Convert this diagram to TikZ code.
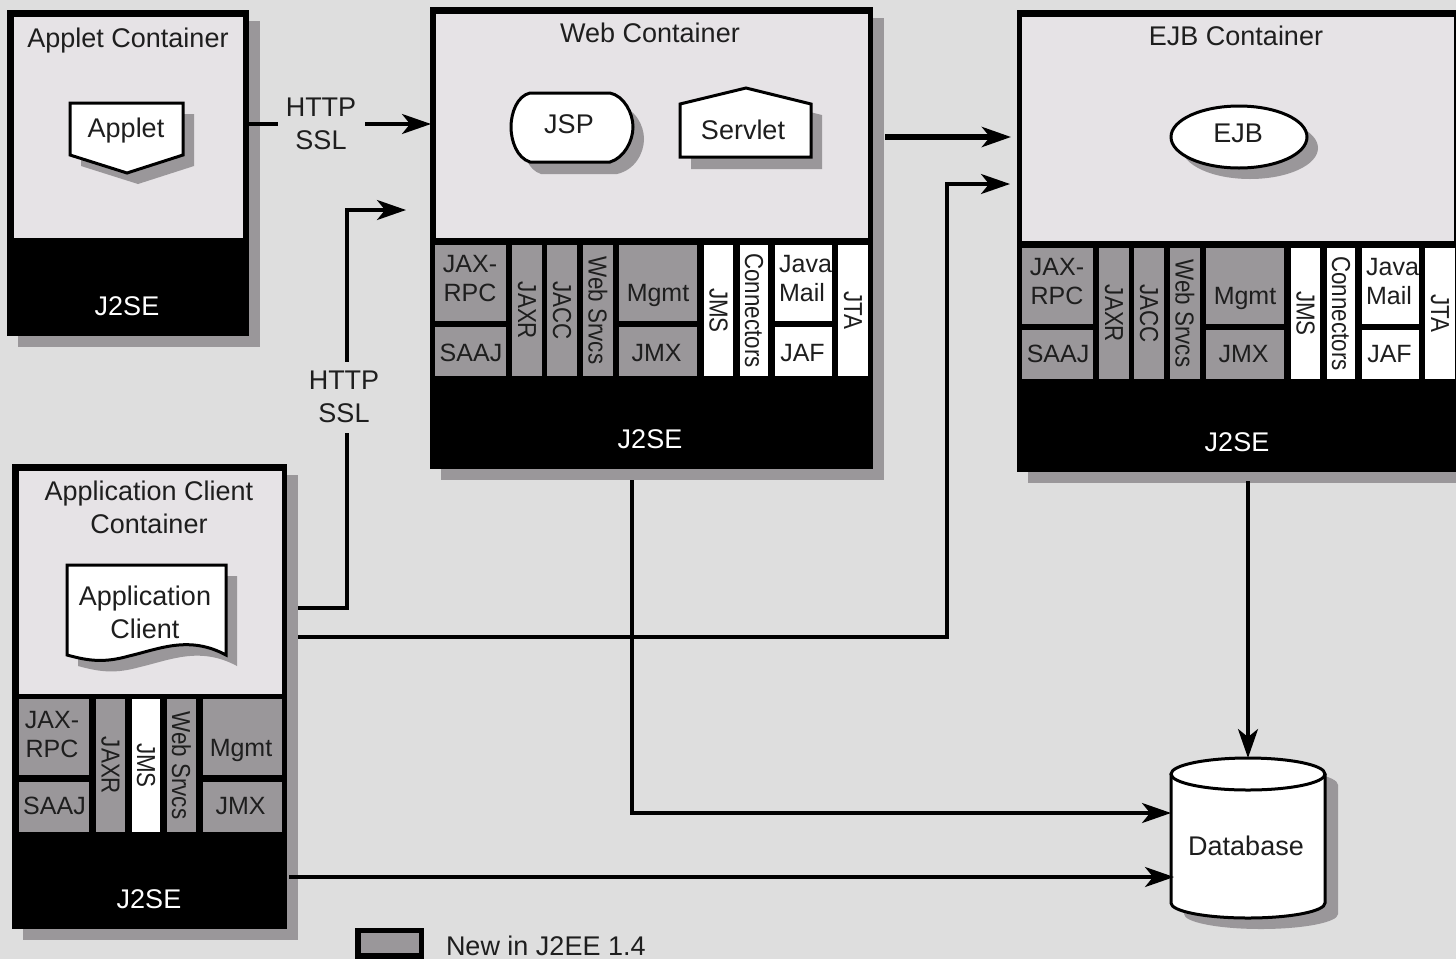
\documentclass[tikz,border=0pt]{standalone}
\usepackage{fontspec}
\setmainfont{Liberation Sans}
\newfontfamily\narrowf[FakeStretch=0.86]{Liberation Sans}
\usetikzlibrary{arrows.meta}
\definecolor{bgc}{HTML}{DEDEDE}
\definecolor{panelc}{HTML}{E6E3E6}
\definecolor{newc}{HTML}{9A979A}
\definecolor{ink}{HTML}{1E1E1E}
\tikzset{
  every node/.style={inner sep=0pt,outer sep=0pt,text=ink},
  big/.style={font=\fontsize{27}{33}\selectfont,align=center},
  small/.style={font=\fontsize{25}{29}\selectfont,align=center},
  vtext/.style={font=\fontsize{26}{29}\narrowf,rotate=-90},
  capline/.style={text height=19pt,text depth=0pt},
  blackbox/.style={fill=black},
  panelbox/.style={fill=panelc},
  newbox/.style={fill=newc},
  oldbox/.style={fill=white},
  lift/.style={text depth=4pt},
  shade/.style={fill=newc,draw=none},
  shapeline/.style={fill=white,draw=black,line width=3pt,line join=miter},
  conn/.style={draw=black,line width=3.2pt,-{Stealth[length=29pt,width=20pt,inset=8pt]}},
}
% name, x0,y0,x1,y1, style, text
\newcommand\hbx[7]{\node[small,capline,#6,minimum width={#4-#2},minimum height={#5-#3}] (#1) at ({(#2+#4)/2},{(#3+#5)/2}) {#7};}
\newcommand\vbx[7]{\node[#6,vtext,minimum width={#5-#3},minimum height={#4-#2}] (#1) at ({(#2+#4)/2},{(#3+#5)/2}) {#7};}
\newcommand\ctrbox[6]{% name x0 y0 x1 y1 shadow
  \fill[newc] (#2+#6,#3+#6) rectangle (#4+#6,#5+#6);
  \node[blackbox,minimum width={#4-#2},minimum height={#5-#3}] (#1) at ({(#2+#4)/2},{(#3+#5)/2}) {};}
\newcommand\pnl[5]{\node[panelbox,minimum width={#4-#2},minimum height={#5-#3}] (#1) at ({(#2+#4)/2},{(#3+#5)/2}) {};}
\newcommand\svstack[2]{%
  \hbx{#1jaxrpc}{435}{245}{506}{321}{newbox}{}
  \node[small] (#1jaxrpct) at (470,279) {JAX-\\RPC};
  \hbx{#1saaj}{435}{327}{506}{376}{newbox,#2}{\kern1pt SAAJ}
  \vbx{#1jaxr}{512}{245}{542}{376}{newbox}{JAXR}
  \vbx{#1jacc}{547}{245}{577}{376}{newbox}{JACC}
  \vbx{#1web}{583}{245}{613}{376}{newbox}{Web Srvcs}
  \hbx{#1mgmt}{619}{245}{697}{321}{newbox}{}
  \node[small,capline] (#1mgmtt) at (658,292) {Mgmt};
  \hbx{#1jmx}{619}{327}{697}{376}{newbox,#2}{JMX\kern3pt}
  \vbx{#1jms}{704}{245}{733}{376}{oldbox}{JMS}
  \vbx{#1conn}{740}{245}{768}{376}{oldbox}{Connectors}
  \hbx{#1mail}{775}{245}{832}{321}{oldbox}{}
  \node[small,align=left] (#1mailt) at (805.5,278.5) {Java\\Mail};
  \hbx{#1jaf}{775}{327}{832}{376}{oldbox,#2}{JAF\kern2pt}
  \vbx{#1jta}{838}{245}{868}{376}{oldbox}{JTA}
}
\begin{document}
\begin{tikzpicture}[x=1pt,y=-1pt]
\useasboundingbox (0,0) rectangle (1456,959);
\fill[bgc] (0,0) rectangle (1456,959);
\clip (0,0) rectangle (1456,959);

% Applet container
\ctrbox{applet}{7}{10}{249}{336}{11}
\pnl{appletp}{14}{17}{243}{238}
\node[big,capline] (applett) at (128,38) {Applet Container};
\node[big,capline,text=white] (appletj) at (127,306) {J2SE};
\fill[shade] (81,114) -- (194,114) -- (194,166) -- (138,184) -- (81,166) -- cycle;
\draw[shapeline] (70,103) -- (183,103) -- (183,155) -- (127,173) -- (70,155) -- cycle;
\node[big,capline] (appletn) at (126,128) {Applet};

% Web container
\ctrbox{web}{430}{7}{873}{469}{11}
\pnl{webp}{436}{14}{868}{238}
\node[big,capline] (webt) at (650,33) {Web Container};
\node[big,capline,text=white] (webj) at (650,439) {J2SE};
\svstack{w}{}
\fill[shade] (541,105) -- (617,105) .. controls (635,108) and (644,125) .. (644,139) .. controls (644,153) and (635,170) .. (617,174) -- (541,174) .. controls (528,170) and (522,153) .. (522,139) .. controls (522,125) and (528,108) .. (541,105) -- cycle;
\draw[shapeline] (530,93) -- (610,93) .. controls (624,96) and (633,113) .. (633,127) .. controls (633,141) and (624,158) .. (610,162) -- (530,162) .. controls (517,158) and (511,141) .. (511,127) .. controls (511,113) and (517,96) .. (530,93) -- cycle;
\node[big,capline] (jsp) at (569,124) {JSP};
\fill[shade] (691,115) -- (757,99) -- (822,115) -- (822,169) -- (691,169) -- cycle;
\draw[shapeline] (680,104) -- (746,88) -- (811,104) -- (811,157) -- (680,157) -- cycle;
\node[big,capline] (servlet) at (743,130) {Servlet};

% EJB container
\ctrbox{ejb}{1017}{10}{1459}{472}{11}
\pnl{ejbp}{1022}{17}{1454}{241}
\node[big,capline] (ejbt) at (1236,36) {EJB Container};
\node[big,capline,text=white] (ejbj) at (1237,442) {J2SE};
\begin{scope}[shift={(587,3)}]
\svstack{e}{lift}
\end{scope}
\fill[shade] (1250,148) ellipse [x radius=68,y radius=31];
\draw[shapeline] (1239,137) ellipse [x radius=68,y radius=31];
\node[big,capline] (ejbn) at (1238,133) {EJB};

% Application client container
\ctrbox{client}{12}{464}{287}{929}{11}
\pnl{clientp}{19}{471}{282}{694}
\node[big] (clientt) at (149,507) {Application Client\\Container};
\node[big,capline,text=white] (clientj) at (149,899) {J2SE};
\hbx{cjaxrpc}{19}{699}{89}{775}{newbox}{}
\node[small] (cjaxrpct) at (52,735) {JAX-\\RPC};
\hbx{csaaj}{19}{782}{89}{832}{newbox,lift}{\kern1pt SAAJ}
\vbx{cjaxr}{96}{699}{125}{832}{newbox}{JAXR}
\vbx{cjms}{132}{699}{160}{832}{oldbox}{JMS}
\vbx{cweb}{167}{699}{196}{832}{newbox}{Web Srvcs}
\hbx{cmgmt}{203}{699}{282}{775}{newbox}{}
\node[small,capline] (cmgmtt) at (241,747) {Mgmt};
\hbx{cjmx}{203}{782}{282}{832}{newbox,lift}{JMX\kern4pt}
\fill[shade] (78,576) -- (237,576) -- (237,666) .. controls (200,646) and (170,660) .. (140,667) .. controls (115,674) and (100,672) .. (78,666) -- cycle;
\draw[shapeline] (67,565) -- (226,565) -- (226,655) .. controls (189,635) and (159,649) .. (129,656) .. controls (104,663) and (89,661) .. (67,655) -- cycle;
\node[big] (clientn) at (145,612) {Application\\Client};

% Database
\fill[shade] (1184,785) -- (1338,785) -- (1338,914) arc[start angle=0,end angle=180,x radius=77,y radius=15] -- cycle;
\fill[shade] (1261,785) ellipse [x radius=77,y radius=16];
\draw[shapeline] (1171,774) -- (1171,903) arc[start angle=180,end angle=0,x radius=77,y radius=15] -- (1325,774);
\draw[shapeline] (1248,774) ellipse [x radius=77,y radius=16];
\node[minimum width=154pt,minimum height=160pt] (db) at (1248,838) {};
\node[big,capline] (dbt) at (1246,846) {Database};

% Legend
\node[blackbox,minimum width=69pt,minimum height=31pt] (legendbox) at (389.5,943.5) {};
\node[newbox,minimum width=58pt,minimum height=20pt] (legendfill) at (390,943) {};
\node[big,capline,anchor=west] (legendt) at (446,946) {New in J2EE 1.4};

% Free ends of open connectors
\coordinate (webgate) at (406,210);
\coordinate (ejbgate) at (1010,184);

% Connectors
\draw[conn] ([yshift=49pt]applet.east) -- ([xshift=1pt,yshift=114pt]web.west);
\node[big,fill=bgc,minimum width=87pt,minimum height=60pt] (lbl1) at (321,124) {HTTP\\SSL};
\draw[conn] ([xshift=11pt,yshift=88.5pt]client.east) -- (347,608) -- (347,210) -- (webgate);
\node[big,fill=bgc,minimum width=70pt,minimum height=71pt] (lbl2) at (344,397) {HTTP\\SSL};
\draw[conn] ([xshift=11pt,yshift=59.5pt]client.east) -- (947,637) -- (947,184) -- (ejbgate);
\draw[conn,line width=6pt] ([xshift=12pt,yshift=101pt]web.east) -- ([xshift=-6pt,yshift=104pt]ejb.west);
\draw[conn] ([xshift=-19.5pt,yshift=-11pt]web.south) |- ([yshift=25pt]db.west);
\draw[conn] ([xshift=2pt,yshift=-180.5pt]client.east) -- ([xshift=3pt,yshift=-39pt]db.west);
\draw[conn] ([xshift=10pt,yshift=-9pt]ejb.south) -- (db.north);
\end{tikzpicture}
\end{document}
